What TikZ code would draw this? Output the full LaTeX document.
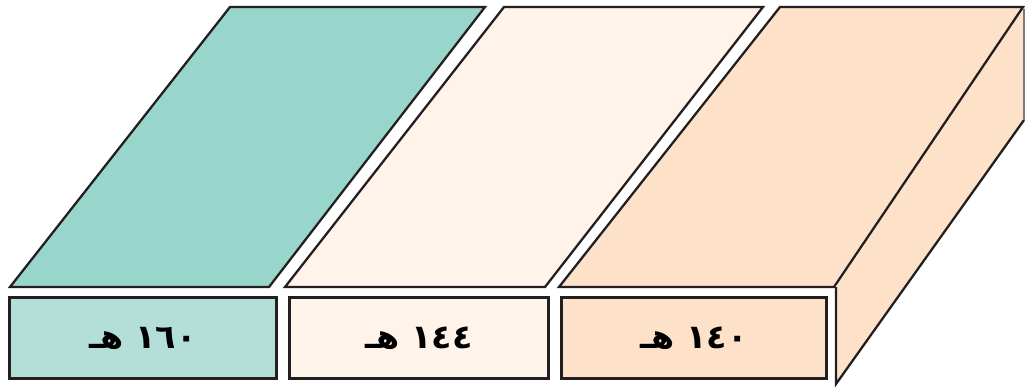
\documentclass[tikz,border=0pt]{standalone}
\usepackage{fontspec}
\newfontfamily\arabicfont[Script=Arabic]{DejaVu Sans}
\TeXXeTstate=1
\usepackage{xcolor}
\usepackage{tikz}
\usetikzlibrary{positioning}

\definecolor{tealtop}{HTML}{98D6CC}
\definecolor{tealbox}{HTML}{B3DFD8}
\definecolor{creamtop}{HTML}{FFF3EA}
\definecolor{peachtop}{HTML}{FDE1C8}
\definecolor{edgeblack}{HTML}{231F20}

\begin{document}
\begin{tikzpicture}[
  x=0.02cm, y=-0.02cm,
  face/.style={draw=edgeblack, line width=1.3pt, line join=miter},
  datebox/.style={draw=edgeblack, line width=1.3pt, rectangle, minimum height=1.62cm, inner sep=0pt,
    font=\fontsize{19}{22}\selectfont\arabicfont\bfseries}
]
\useasboundingbox (0,0) rectangle (1025,386);

% side face
\fill[peachtop] (836,287) -- (1023,7) -- (1025,7) -- (1025,121) -- (836,384) -- cycle;
\draw[face] (836,287) -- (836,384) -- (1024,120);
\draw[edgeblack!60, line width=0.6pt] (1024,9) -- (1024,120);

% top faces
\fill[tealtop] (10,287) -- (230,7) -- (485,7) -- (269,287) -- cycle;
\draw[face] (10,287) -- (230,7) -- (485,7) -- (269,287) -- cycle;
\fill[creamtop] (285,287) -- (504,7) -- (763,7) -- (545,287) -- cycle;
\draw[face] (285,287) -- (504,7) -- (763,7) -- (545,287) -- cycle;
\fill[peachtop] (559,287) -- (780,7) -- (1023,7) -- (834,287) -- cycle;
\draw[face] (559,287) -- (780,7) -- (1023,7) -- (834,287) -- cycle;

% date boxes
\node[datebox, fill=tealbox, minimum width=5.34cm] (d160) at (143,338) {\beginR ١٦٠ هـ\endR};
\node[datebox, fill=creamtop, minimum width=5.18cm] (d144) at (419,338) {\beginR ١٤٤ هـ\endR};
\node[datebox, fill=peachtop, minimum width=5.3cm] (d140) at (694,338) {\beginR ١٤٠ هـ\endR};

\end{tikzpicture}
\end{document}
